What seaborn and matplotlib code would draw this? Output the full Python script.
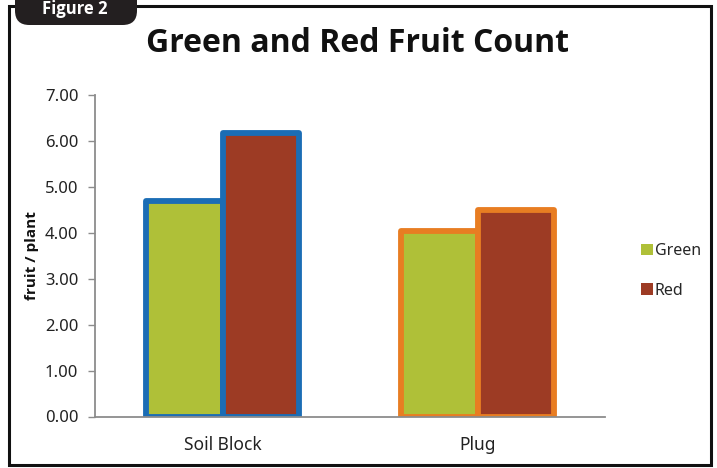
import matplotlib
matplotlib.use("Agg")
import matplotlib.pyplot as plt
from matplotlib.patches import Rectangle, FancyBboxPatch, Patch
import seaborn as sns
import pandas as pd

categories = ["Soil Block", "Plug"]
series = ["Green", "Red"]
green_values = [4.69, 4.04]
red_values = [6.17, 4.50]
y_ticks = [0, 1, 2, 3, 4, 5, 6, 7]

fill_colors = {"Green": "#afc038", "Red": "#9d3b24"}
edge_colors = {"Soil Block": "#1b6db5", "Plug": "#e87d22"}

df = pd.DataFrame({
    "category": categories * 2,
    "series": ["Green"] * 2 + ["Red"] * 2,
    "value": green_values + red_values,
})

sns.set_theme(style="white")
plt.rcParams["font.family"] = ["Noto Sans", "DejaVu Sans"]
BOLD = ["Open Sans", "DejaVu Sans"]

W, H = 717, 468
fig = plt.figure(figsize=(W / 100, H / 100), dpi=100)
ax = fig.add_axes([95 / W, 1 - 416.5 / H, (605 - 95) / W, (416.5 - 95) / H])

sns.barplot(data=df, x="category", y="value", hue="series", order=categories,
            hue_order=series, palette=fill_colors, width=0.6, ax=ax,
            saturation=1, legend=False, errorbar=None)

for cont in ax.containers:
    for bar, cat in zip(cont, categories):
        bar.set_edgecolor(edge_colors[cat])
        bar.set_linewidth(4.2)
        bar.set_joinstyle("round")

ax.set_ylim(0, 7)
ax.set_xlim(-0.5, 1.5)
ax.set_yticks(y_ticks)
ax.set_yticklabels([f"{v:.2f}" for v in y_ticks], fontsize=12, color="#222222")
ax.tick_params(axis="x", labelsize=12.5, colors="#222222", length=0, pad=14)
ax.tick_params(axis="y", left=True, length=5, width=1, color="#8c8c8c", pad=7)
ax.set_xlabel("")
ax.set_ylabel("fruit / plant", fontsize=11, fontweight="bold", color="#111111",
              labelpad=4, family=BOLD)
for s in ["top", "right"]:
    ax.spines[s].set_visible(False)
for s in ["left", "bottom"]:
    ax.spines[s].set_color("#8c8c8c")
    ax.spines[s].set_linewidth(1.3)

handles = [Patch(facecolor=fill_colors[s], edgecolor="none", label=s) for s in series]
fig.legend(handles=handles, loc="center left", bbox_to_anchor=(627 / W, 1 - 271 / H),
           frameon=False, fontsize=11.5, handlelength=0.7, handleheight=0.7,
           handletextpad=0.15, labelspacing=1.45)

fig.text(357 / W, 1 - 52 / H, "Green and Red Fruit Count", ha="center", va="baseline",
         fontsize=23, fontweight="bold", color="#111111", family=BOLD)

fig.patches.append(Rectangle((9 / W, 1 - 465 / H), (711 - 9) / W, (465 - 6) / H,
                             transform=fig.transFigure, fill=False,
                             edgecolor="#111111", linewidth=2.2))
fig.patches.append(FancyBboxPatch((15 / W, 1 - 25 / H), (137 - 15) / W, 40 / H,
                                  boxstyle="round,pad=0,rounding_size=0.02",
                                  transform=fig.transFigure, facecolor="#231f20",
                                  edgecolor="none", mutation_aspect=W / H))
fig.text(75 / W, 1 - 14 / H, "Figure 2", ha="center", va="baseline",
         fontsize=12, fontweight="bold", color="white", family=BOLD)

fig.savefig("out.png", dpi=100)
